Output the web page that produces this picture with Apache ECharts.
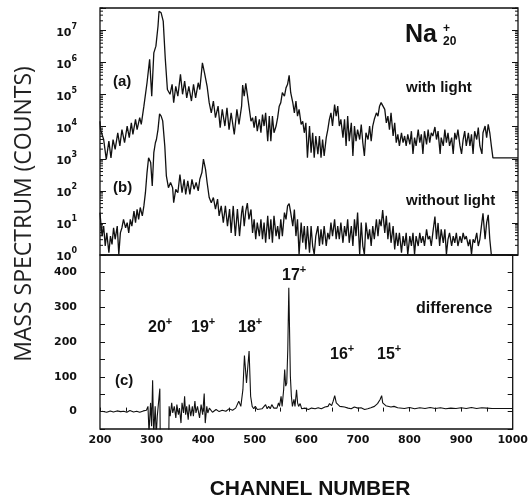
<!DOCTYPE html>
<html>
<head>
<meta charset="utf-8">
<script src="https://cdn.jsdelivr.net/npm/echarts@6.0.0/dist/echarts.min.js"></script>
<style>
  html, body { margin: 0; padding: 0; background: #fff; }
  #chart { width: 531px; height: 502px; }
</style>
</head>
<body>
<div id="chart"></div>
<script>
// [channel, log10(counts)] (a) "with light"
const withLight = [
  [200, 4.17], [201, 3.91], [207, 3.60], [212, 2.98], [217, 3.55], [221, 3.03], [225, 3.60], [229, 3.29],
  [234, 3.81], [238, 3.40], [242, 3.91], [247, 3.50], [252, 4.02], [256, 3.66], [260, 4.12], [263, 3.76],
  [268, 4.23], [271, 3.91], [276, 4.28], [279, 4.07], [284, 4.64], [290, 5.37], [295, 6.10], [299, 4.95],
  [303, 6.30], [307, 6.51], [311, 7.13], [313, 7.60], [317, 7.55], [321, 7.29], [325, 6.10], [329, 5.16],
  [334, 5.01], [338, 5.32], [341, 4.75], [345, 5.26], [349, 4.95], [354, 5.63], [358, 5.01], [362, 5.42],
  [366, 4.90], [370, 5.26], [375, 4.80], [379, 5.32], [383, 4.90], [388, 5.37], [391, 5.16], [396, 5.99],
  [400, 5.68], [405, 5.26], [409, 4.75], [413, 4.43], [417, 4.80], [421, 4.28], [426, 4.64], [430, 3.97],
  [434, 4.54], [439, 4.02], [443, 4.59], [447, 3.91], [451, 4.43], [457, 3.76], [462, 4.54], [466, 4.07],
  [471, 4.64], [473, 5.30], [476, 4.95], [479, 5.35], [482, 5.00], [485, 4.64], [489, 4.17], [492, 4.28],
  [495, 3.97], [498, 4.33], [501, 3.86], [505, 4.23], [508, 3.81], [511, 4.38], [514, 4.02], [517, 4.43],
  [521, 3.55], [524, 4.33], [527, 3.55], [530, 4.33], [533, 3.81], [537, 4.02], [540, 4.28], [543, 4.64],
  [546, 4.75], [549, 5.06], [553, 4.95], [556, 5.21], [559, 5.32], [562, 5.60], [565, 5.06], [569, 4.75],
  [572, 4.43], [575, 4.80], [578, 4.33], [581, 4.54], [585, 4.07], [588, 4.17], [591, 3.81], [594, 4.12],
  [597, 3.03], [601, 4.02], [604, 3.19], [607, 3.81], [610, 3.03], [613, 3.71], [617, 3.14], [620, 3.71],
  [623, 3.03], [626, 3.60], [629, 3.09], [633, 3.66], [636, 3.91], [639, 4.23], [642, 4.43], [645, 4.02],
  [649, 4.69], [652, 4.33], [655, 4.64], [658, 4.02], [661, 4.23], [665, 3.66], [668, 4.23], [671, 3.40],
  [674, 4.33], [677, 3.55], [681, 4.12], [684, 3.09], [687, 4.02], [690, 3.55], [693, 3.91], [697, 3.60],
  [700, 4.07], [703, 3.50], [706, 3.09], [709, 3.81], [713, 3.60], [716, 4.02], [719, 3.55], [722, 4.02],
  [725, 4.23], [729, 4.43], [732, 4.33], [735, 4.64], [738, 4.75], [741, 4.80], [745, 4.54], [748, 4.12],
  [751, 4.33], [754, 3.91], [757, 4.43], [761, 3.71], [764, 4.12], [767, 3.50], [770, 3.76], [773, 3.40],
  [777, 3.81], [780, 3.50], [783, 3.71], [786, 3.40], [789, 3.76], [793, 3.45], [796, 3.86], [799, 3.15],
  [802, 3.66], [805, 3.40], [809, 3.91], [812, 3.50], [815, 3.76], [818, 3.15], [821, 3.86], [825, 3.45],
  [828, 3.91], [831, 3.50], [834, 3.81], [837, 3.71], [841, 3.99], [844, 3.60], [847, 3.86], [851, 3.15],
  [853, 3.66], [857, 3.40], [860, 3.91], [863, 3.50], [866, 3.81], [869, 3.40], [873, 3.66], [876, 3.15],
  [879, 3.81], [882, 3.60], [885, 3.91], [889, 3.40], [892, 3.15], [895, 3.60], [898, 3.86], [901, 3.40],
  [905, 3.81], [908, 3.40], [911, 3.76], [914, 3.15], [917, 3.86], [921, 3.60], [924, 3.97], [927, 3.40],
  [931, 3.15], [933, 3.81], [937, 4.02], [940, 3.66], [943, 4.07], [946, 3.81], [949, 3.40], [952, 3.03],
  [1000, 3.03]
];

// [channel, log10(counts)] (b) "without light"
const withoutLight = [
  [200, 1.32], [201, 1.11], [204, 0.59], [207, 0.90], [210, 0.28], [213, 0.69], [217, 0.07], [220, 0.59],
  [223, 0.33], [226, 0.85], [229, 0.49], [233, 0.90], [236, 0.02], [239, 0.69], [242, 0.85], [245, 1.11],
  [249, 0.85], [252, 1.01], [255, 0.69], [258, 1.11], [261, 0.90], [265, 1.37], [268, 1.01], [271, 1.42],
  [274, 1.11], [277, 1.48], [281, 1.22], [284, 1.53], [287, 1.95], [290, 2.57], [293, 3.03], [297, 2.88],
  [300, 2.15], [303, 3.19], [306, 3.50], [308, 3.60], [311, 3.91], [314, 4.40], [317, 4.33], [320, 4.18],
  [324, 3.40], [327, 2.47], [331, 2.10], [335, 2.26], [339, 2.10], [341, 1.63], [345, 2.05], [349, 1.94],
  [353, 2.51], [357, 1.94], [361, 2.36], [364, 1.89], [368, 2.31], [372, 1.89], [376, 2.36], [380, 2.05],
  [384, 2.26], [388, 2.00], [391, 2.36], [395, 2.57], [398, 2.99], [402, 2.67], [405, 2.26], [409, 1.79],
  [413, 1.63], [417, 1.79], [421, 1.43], [425, 1.74], [428, 1.22], [432, 1.53], [436, 1.01], [440, 1.53],
  [444, 0.90], [448, 1.43], [451, 0.69], [455, 1.53], [459, 0.59], [463, 1.43], [467, 0.59], [471, 1.32],
  [473, 1.53], [476, 0.90], [479, 1.37], [482, 1.62], [485, 1.11], [489, 1.42], [492, 0.69], [495, 1.11],
  [498, 0.49], [501, 1.01], [505, 0.59], [508, 1.11], [511, 0.49], [514, 1.01], [517, 0.38], [521, 1.22],
  [524, 0.49], [527, 1.11], [530, 0.38], [533, 1.22], [537, 0.59], [540, 0.90], [543, 0.49], [546, 1.11],
  [549, 0.59], [553, 1.32], [556, 1.11], [559, 1.53], [562, 1.60], [565, 1.32], [569, 0.90], [572, 1.42],
  [575, 0.59], [578, 1.11], [581, 0.02], [585, 1.01], [588, 0.38], [591, 0.90], [594, 0.17], [597, 0.90],
  [601, 0.07], [604, 0.90], [607, 0.28], [610, 0.02], [613, 0.59], [617, 0.90], [620, 0.28], [623, 0.80],
  [626, 0.33], [629, 0.90], [633, 0.28], [636, 0.69], [639, 0.49], [642, 1.01], [645, 0.59], [649, 1.11],
  [652, 0.49], [655, 0.90], [658, 0.49], [661, 1.01], [665, 0.38], [668, 0.90], [671, 0.59], [674, 1.11],
  [677, 0.38], [681, 0.90], [684, 0.28], [687, 1.11], [690, 0.59], [693, 1.32], [697, 0.02], [700, 1.01],
  [703, 0.28], [706, 0.02], [709, 1.01], [713, 0.49], [716, 0.80], [719, 0.28], [722, 0.90], [725, 0.49],
  [729, 1.11], [732, 0.59], [735, 1.11], [738, 0.90], [741, 1.40], [745, 0.69], [748, 1.22], [751, 0.49],
  [754, 1.01], [757, 0.38], [761, 0.90], [764, 0.17], [767, 0.69], [770, 0.28], [773, 0.69], [777, 0.07],
  [780, 0.59], [783, 0.28], [786, 0.69], [789, 0.02], [793, 0.59], [796, 0.28], [799, 0.69], [802, 0.02],
  [805, 0.59], [809, 0.28], [812, 0.69], [815, 0.38], [818, 0.59], [821, 0.28], [825, 0.80], [828, 0.49],
  [831, 0.59], [834, 0.28], [837, 0.69], [841, 1.20], [844, 0.49], [847, 1.00], [850, 0.28], [853, 0.80],
  [857, 0.38], [860, 0.80], [863, 0.02], [866, 0.49], [869, 0.69], [873, 0.28], [876, 0.59], [879, 0.38],
  [882, 0.69], [885, 0.28], [889, 0.59], [892, 0.38], [895, 0.69], [898, 0.49], [901, 0.59], [905, 0.28],
  [908, 0.49], [911, 0.02], [914, 0.49], [917, 0.38], [921, 0.69], [924, 0.28], [927, 0.49], [930, 0.90],
  [933, 1.30], [937, 0.49], [940, 1.01], [943, 1.25], [946, 0.49], [949, 0.00], [1000, 0.00]
];

// [channel, counts] (c) "difference"
const difference = [
  [204, 1], [207, 1], [213, -2], [220, 2], [226, -1], [233, 2], [240, 0], [246, 1], [252, -2], [258, 3],
  [265, -1], [271, 1], [277, -2], [284, 2], [290, 4], [293, 15], [295, -61], [298, 25], [300, -42],
  [302, 90], [304, -66], [307, 15], [309, -71], [311, -13], [316, 66], [317, -120], [333, -120], [334, 15],
  [336, -13], [339, 25], [341, -4], [344, 15], [347, -18], [349, 20], [352, -9], [354, 10], [357, -33],
  [359, 25], [362, -4], [364, 44], [366, -9], [368, 15], [371, -23], [373, 20], [376, -13], [379, 15],
  [381, -13], [384, 30], [386, -4], [389, 15], [393, -18], [396, 20], [399, -9], [402, 52], [404, -33],
  [407, 15], [409, -4], [412, 10], [418, -2], [425, 6], [431, 0], [437, 4], [444, 1], [450, 8], [457, 4],
  [463, 10], [466, 11], [469, 30], [473, 15], [475, 15], [477, 63], [480, 161], [484, 82], [489, 174],
  [492, 44], [495, 15], [498, 8], [501, 15], [505, 6], [508, 10], [514, 8], [521, 20], [524, 8], [527, 15],
  [530, 8], [533, 20], [537, 10], [540, 15], [543, 10], [546, 25], [548, 15], [551, 44], [553, 15],
  [556, 63], [558, 121], [560, 73], [562, 82], [564, 178], [566, 356], [569, 102], [571, 44], [573, 15],
  [576, 35], [578, 15], [581, 63], [583, 25], [585, 15], [588, 23], [591, 8], [597, 10], [604, 6], [610, 10],
  [617, 8], [623, 11], [629, 8], [636, 13], [642, 15], [645, 23], [649, 17], [652, 30], [655, 46], [658, 25],
  [661, 20], [665, 15], [668, 17], [674, 13], [681, 10], [687, 8], [693, 13], [700, 10], [706, 11], [713, 6],
  [719, 8], [725, 11], [732, 15], [738, 23], [743, 35], [746, 46], [748, 25], [751, 30], [754, 17], [757, 20],
  [764, 13], [770, 15], [777, 11], [790, 9], [800, 12], [810, 8], [820, 11], [830, 9], [840, 12], [850, 9],
  [860, 11], [870, 8], [880, 10], [890, 9], [900, 11], [910, 9], [920, 12], [930, 9], [940, 11], [950, 10],
  [960, 9], [1000, 9]
];

const peakLabels = ['20', '19', '18', '17', '16', '15'];

const LOG_TOP = 7.7;
const toCounts = pts => pts.map(p => [p[0], Math.pow(10, p[1])]);

// log minor tick positions (2..9 x 10^n) on both frame edges
const minorTicks = [];
for (let n = 0; n < 8; n++) {
  for (let k = 2; k <= 9; k++) {
    const v = k * Math.pow(10, n);
    if (Math.log10(v) < LOG_TOP) {
      minorTicks.push([200, v]);
      minorTicks.push([1000, v]);
    }
  }
}

const tickFont = { fontFamily: 'DejaVu Sans', fontWeight: 'bold', fontSize: 11, color: '#111' };
const annFont = '"Liberation Sans", Arial, sans-serif';

const logLabel = v => {
  const e = Math.log10(v);
  const n = Math.round(e);
  if (Math.abs(e - n) > 1e-6) return '';
  return '{b|10}{s|' + n + '}';
};

const logAxis = (pos, labels) => ({
  type: 'log',
  logBase: 10,
  gridIndex: 0,
  position: pos,
  min: 1,
  max: Math.pow(10, LOG_TOP),
  axisLine: { show: false },
  axisTick: { show: true, inside: true, length: 6, lineStyle: { color: '#111' } },
  minorTick: { show: false },
  splitLine: { show: false },
  axisLabel: {
    show: labels,
    margin: 23,
    formatter: logLabel,
    rich: {
      b: { fontFamily: 'DejaVu Sans', fontWeight: 'bold', fontSize: 11, color: '#111', lineHeight: 16, verticalAlign: 'bottom' },
      s: { fontFamily: 'DejaVu Sans', fontWeight: 'bold', fontSize: 8, color: '#111', lineHeight: 16, verticalAlign: 'top' }
    }
  }
});

const linAxis = (pos, labels) => ({
  type: 'value',
  gridIndex: 1,
  position: pos,
  min: -50,
  max: 450,
  interval: 50,
  axisLine: { show: false },
  axisTick: { show: true, inside: true, length: 5, lineStyle: { color: '#111' } },
  splitLine: { show: false },
  axisLabel: Object.assign({
    show: labels,
    margin: 23,
    formatter: v => (v >= 0 && v <= 400 && v % 100 === 0 ? String(v) : '')
  }, tickFont)
});

const chart = echarts.init(document.getElementById('chart'), null, { renderer: 'canvas' });

const supText = (txt, x, y) => ({
  type: 'text',
  x: x,
  y: y,
  style: {
    text: '{d|' + txt + '}{s|+}',
    textVerticalAlign: 'middle',
    rich: {
      d: { fontFamily: annFont, fontWeight: 'bold', fontSize: 16, fill: '#111', lineHeight: 20, verticalAlign: 'bottom' },
      s: { fontFamily: annFont, fontWeight: 'bold', fontSize: 11, fill: '#111', lineHeight: 20, verticalAlign: 'top' }
    }
  }
});

const plain = (txt, x, y, size) => ({
  type: 'text',
  x: x,
  y: y,
  style: {
    text: txt,
    fill: '#111',
    font: 'bold ' + size + 'px ' + annFont,
    textVerticalAlign: 'middle'
  }
});

const peakX = [148, 191, 238, 282, 330, 377];
const peakY = [326, 326, 326, 274, 353, 353];

chart.setOption({
  backgroundColor: '#fff',
  animation: false,
  grid: [
    { left: 100, right: 13, top: 8, height: 247, show: true, borderColor: '#111', borderWidth: 1.3, backgroundColor: 'transparent' },
    { left: 100, right: 13, top: 255, height: 174, show: true, borderColor: '#111', borderWidth: 1.3, backgroundColor: 'transparent' }
  ],
  xAxis: [
    { type: 'value', gridIndex: 0, min: 200, max: 1000, show: false },
    {
      type: 'value', gridIndex: 1, min: 200, max: 1000, interval: 50,
      axisLine: { show: false },
      axisTick: { show: true, inside: true, length: 4, lineStyle: { color: '#111' } },
      splitLine: { show: false },
      axisLabel: Object.assign({
        margin: 6,
        formatter: v => (v % 100 === 0 ? String(v) : '')
      }, tickFont)
    }
  ],
  yAxis: [
    logAxis('left', true),
    logAxis('right', false),
    linAxis('left', true),
    linAxis('right', false)
  ],
  series: [
    {
      name: 'with light', type: 'line', xAxisIndex: 0, yAxisIndex: 0,
      data: toCounts(withLight), showSymbol: false, clip: true,
      lineStyle: { color: '#111', width: 1.3 }
    },
    {
      name: 'without light', type: 'line', xAxisIndex: 0, yAxisIndex: 0,
      data: toCounts(withoutLight), showSymbol: false, clip: true,
      lineStyle: { color: '#111', width: 1.3 }
    },
    {
      name: 'difference', type: 'line', xAxisIndex: 1, yAxisIndex: 2,
      data: difference, showSymbol: false, clip: true,
      lineStyle: { color: '#111', width: 1.1 }
    },
    {
      name: 'log minor ticks', type: 'custom', xAxisIndex: 0, yAxisIndex: 0,
      data: minorTicks, silent: true, clip: false,
      renderItem: (params, api) => {
        const pt = api.coord([api.value(0), api.value(1)]);
        const dir = api.value(0) <= 200 ? 1 : -1;
        return {
          type: 'line',
          shape: { x1: pt[0], y1: pt[1], x2: pt[0] + dir * 3, y2: pt[1] },
          style: { stroke: '#111', lineWidth: 1 }
        };
      }
    }
  ],
  graphic: [
    {
      type: 'text', x: 24, y: 214, rotation: Math.PI / 2,
      style: {
        text: 'MASS SPECTRUM (COUNTS)', fill: '#222',
        font: '23px "Open Sans", sans-serif',
        textAlign: 'center', textVerticalAlign: 'middle'
      }
    },
    {
      type: 'text', x: 310, y: 489,
      style: {
        text: 'CHANNEL NUMBER', fill: '#111',
        font: 'bold 21px ' + annFont,
        textAlign: 'center', textVerticalAlign: 'middle'
      }
    },
    plain('Na', 405, 35, 25),
    plain('+', 443, 29, 12),
    plain('20', 443, 42, 12),
    plain('(a)', 113, 82, 15),
    plain('with light', 406, 88, 15),
    plain('(b)', 113, 188, 15),
    plain('without light', 406, 201, 15),
    plain('(c)', 115, 381, 15),
    plain('difference', 416, 309, 16)
  ].concat(peakLabels.map((t, i) => supText(t, peakX[i], peakY[i])))
});
</script>
</body>
</html>
